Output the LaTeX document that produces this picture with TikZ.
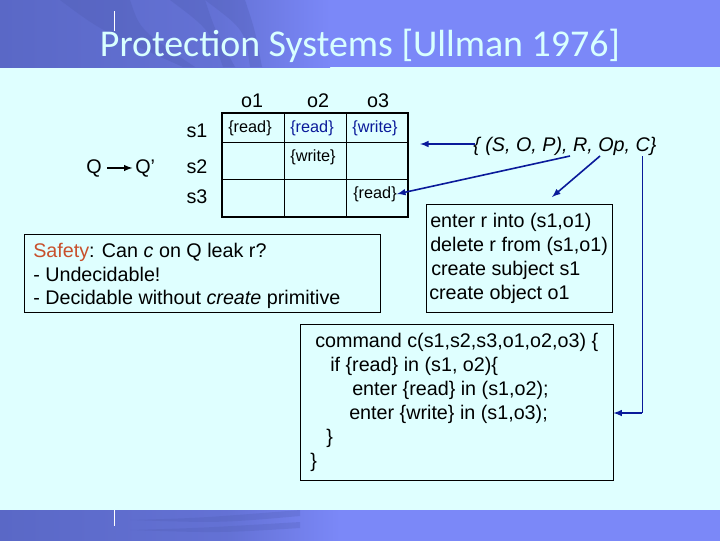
\documentclass[tikz,border=0pt]{standalone}
\usepackage{fontspec}
\setmainfont{Liberation Sans}
\newfontfamily\titlefont{Carlito}
\definecolor{bandblue}{HTML}{7B88F8}
\definecolor{banddark}{HTML}{5A68C6}
\definecolor{raydark}{HTML}{4E5BB0}
\definecolor{paleback}{HTML}{DFFFFF}
\definecolor{titlecyan}{HTML}{D8FFFF}
\definecolor{arrowblue}{HTML}{0A1A9A}
\definecolor{safetyred}{HTML}{C8502C}
\tikzset{
  body/.style={font=\fontsize{14.8}{17}\selectfont, inner sep=0pt, anchor=base west},
  cell/.style={font=\fontsize{12.2}{14}\selectfont, inner sep=0pt},
  tipline/.style={->, >=latex, line width=1.2pt, arrowblue},
  textbox/.style={draw=black, line width=0.6pt},
}
\begin{document}
\begin{tikzpicture}[x=0.75pt, y=-0.75pt]
    \useasboundingbox (0,0) rectangle (720,540);
    % background and bands
    \fill[paleback] (0,0) rectangle (720,540);
    \fill[bandblue] (0,0) rectangle (722,67);
    \fill[bandblue] (0,510) rectangle (722,543);
    \shade[left color=banddark, right color=banddark!70!bandblue] (0,0) rectangle (220,67);
    \shade[left color=banddark!70!bandblue, right color=bandblue] (220,0) rectangle (330,67);
    \shade[left color=banddark, right color=banddark!70!bandblue] (0,510) rectangle (230,543);
    \shade[left color=banddark!70!bandblue, right color=bandblue] (230,510) rectangle (340,543);
    \foreach \xa/\xb/\xc in {60/130/195, 170/205/235, 205/245/262}
    \fill[raydark, opacity=0.3] (\xa,0) -- (\xb,0) .. controls (\xb+10,30) .. (\xc,67) -- (\xc-12,67) .. controls (\xa+40,30) .. (\xa,0);
    \foreach \ya/\yb in {510/520, 522/530}
    \fill[raydark, opacity=0.25] (130,\yb) .. controls (200,\yb-2) .. (300,\ya) -- (300,\ya+6) .. controls (220,\yb+3) .. (130,\yb);
    \draw[white, line width=0.6pt] (114,11) -- (114,31);
    \draw[white, line width=0.6pt] (114,510) -- (114,526);
    \node[font=\titlefont\fontsize{28.4}{31}\selectfont, text=titlecyan, inner sep=0pt, anchor=base] (title) at (360,56) {Protection Systems [Ullman 1976]};

    % access matrix
    \draw[line width=1pt] (222,113) rectangle (408,217);
    \foreach \x in {284,346}
    \draw[line width=0.7pt] (\x,113) -- (\x,217);
    \foreach \y in {142,179}
    \draw[line width=0.7pt] (222,\y) -- (408,\y);
    \foreach \x/\xtext/\xname in {252/o1/oa, 318/o2/ob, 378/o3/oc}
    \node[body, anchor=base] (\xname) at (\x,107) {\xtext};
    \foreach \y/\ytext/\yname in {137/s1/sa, 173/s2/sb, 203/s3/sc}
    \node[body, anchor=base] (\yname) at (197,\y) {\ytext};
    \node[cell] (readA) at (250,128) {\{read\}};
    \node[cell, text=arrowblue] (readB) at (312,128) {\{read\}};
    \node[cell, text=arrowblue] (writeC) at (375,128) {\{write\}};
    \node[cell] (writeB) at (313,157) {\{write\}};
    \node[cell] (readC) at (375,194) {\{read\}};

    % states
    \node[body] (q) at (86,173) {Q};
    \node[body] (qprime) at (135,173) {Q'};
    \draw[->, >=latex, line width=1.1pt, shorten <=4pt, shorten >=2pt] (q) -- (qprime);

    % tuple and its arrows
    \node[body, font=\itshape\fontsize{14.8}{17}\selectfont] (tuple) at (473,151) {\{ (S, O, P), R, Op, C\}};
    \coordinate (fromS) at (475,144);
    \coordinate (toMatrix) at (420,144);
    \coordinate (fromR) at (570,156);
    \coordinate (fromOp) at (600,156);
    \coordinate (toEnter) at (552,197);
    \coordinate (fromC) at (642,156);
    \draw[tipline] (fromS) -- (toMatrix);
    \draw[tipline] (fromR) -- (readC.east);
    \draw[tipline] (fromOp) -- (toEnter);

    % safety box
    \node[textbox, inner sep=0pt, minimum width=356*0.75pt, minimum height=78*0.75pt] (safetybox) at (202,273) {};
    \node[body] (safetyA) at (33,257) {\textcolor{safetyred}{Safety}: Can \textit{c} on Q leak r?};
    \node[body] (safetyB) at (33,281) {- Undecidable!};
    \node[body] (safetyC) at (33,304) {- Decidable without \textit{create} primitive};

    % primitive operations
    \node[textbox, inner sep=0pt, minimum width=186*0.75pt, minimum height=108*0.75pt] (enterbox) at (519,258) {};
    \foreach \x/\y/\ltext/\lname in {430/227/enter r into (s1{,}o1)/opA, 430/251/delete r from (s1{,}o1)/opB, 431/275/create subject s1/opC, 429/299/create object o1/opD}
    \node[body] (\lname) at (\x,\y) {\ltext};

    % command
    \node[textbox, inner sep=0pt, minimum width=313*0.75pt, minimum height=156*0.75pt] (commandbox) at (456.5,402) {};
    \foreach \x/\y/\ltext/\lname in {315/347/command c(s1{,}s2{,}s3{,}o1{,}o2{,}o3) \{/cmdA, 330/371/if \{read\} in (s1{,} o2)\{/cmdB, 352/395/enter \{read\} in (s1{,}o2);/cmdC, 349/419/enter \{write\} in (s1{,}o3);/cmdD, 326/443/\}/cmdE, 310/467/\}/cmdF}
    \node[body] (\lname) at (\x,\y) {\ltext};
    \coordinate (bendC) at (642,413);
    \draw[arrowblue, line width=0.6pt] (fromC) -- (bendC);
    \draw[tipline] (bendC) -- (commandbox.east |- bendC);
\end{tikzpicture}
\end{document}
